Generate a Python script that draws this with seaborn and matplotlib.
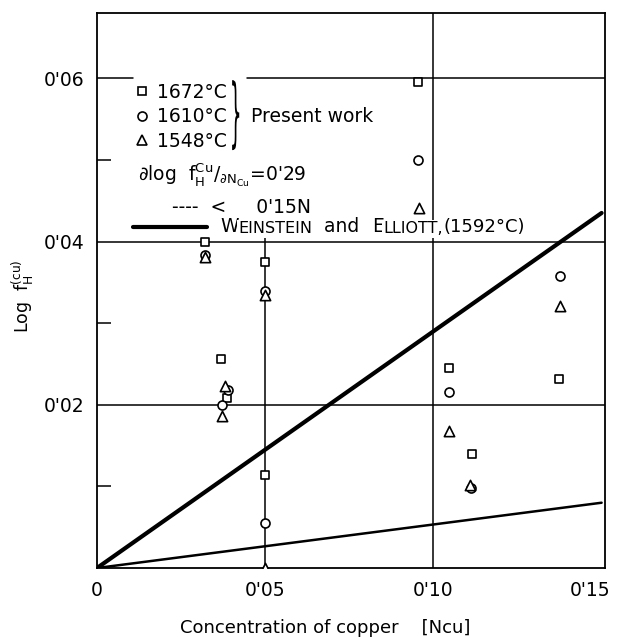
import matplotlib
matplotlib.use("Agg")
import matplotlib.pyplot as plt
import seaborn as sns
from matplotlib.lines import Line2D
from matplotlib.textpath import TextPath
from matplotlib.patches import PathPatch
from matplotlib.font_manager import FontProperties
from matplotlib.transforms import Affine2D, ScaledTranslation

# ---------------- data ----------------
series_labels = ["1672°C", "1610°C", "1548°C"]

x_1672 = [0.0955, 0.0320, 0.0500, 0.0370, 0.0386, 0.0500, 0.1045, 0.1115, 0.1372]
y_1672 = [0.0595, 0.0400, 0.0375, 0.0256, 0.0208, 0.0114, 0.0245, 0.0140, 0.0232]

x_1610 = [0.0955, 0.0320, 0.0500, 0.0390, 0.0373, 0.0500, 0.1045, 0.1112, 0.1375]
y_1610 = [0.0500, 0.0383, 0.0340, 0.0218, 0.0200, 0.0055, 0.0216, 0.0098, 0.0358]

x_1548 = [0.0957, 0.0320, 0.0500, 0.0381, 0.0373, 0.0500, 0.1045, 0.1110, 0.1375]
y_1548 = [0.0441, 0.0381, 0.0334, 0.0223, 0.0186, 0.0000, 0.0168, 0.0102, 0.0321]

line_x = [0.0, 0.15]
present_y = [0.0, 0.0435]      # slope 0.29
weinstein_y = [0.0, 0.0080]

xticks = [0, 0.05, 0.10, 0.15]
xticklabels = ["0", "0'05", "0'10", "0'15"]
yticks = [0.02, 0.04, 0.06]
yticklabels = ["0'02", "0'04", "0'06"]
yminor = [0.01, 0.03, 0.05]

# ---------------- style ----------------
sns.set_theme(style="white")
plt.rcParams["font.family"] = ["DejaVu Sans"]
plt.rcParams["mathtext.fontset"] = "dejavusans"
plt.rcParams["text.color"] = "black"
plt.rcParams["axes.labelcolor"] = "black"
plt.rcParams["legend.labelcolor"] = "black"

fig = plt.figure(figsize=(6.17, 6.37), dpi=100)
ax = fig.add_axes([0.1572, 0.1083, 0.8233, 0.8713])
XMAX, YMAX = 0.151, 0.068
ax.set_xlim(0, XMAX)
ax.set_ylim(0, YMAX)

# grid lines (partly interrupted by the key, as in the reference)
gkw = dict(color="black", lw=1.1, zorder=1)
ax.axhline(0.02, **gkw)
ax.axhline(0.04, **gkw)
ax.axhline(0.06, xmax=0.071, **gkw)
ax.axhline(0.06, xmin=0.295, **gkw)
ax.axvline(0.05, ymax=0.0412 / YMAX, **gkw)
ax.axvline(0.10, **gkw)

# lines
sns.lineplot(x=line_x, y=present_y, color="black", lw=3.0, ax=ax, zorder=3)
sns.lineplot(x=line_x, y=weinstein_y, color="black", lw=1.8, ax=ax, zorder=3)

# points
mk = dict(facecolor="white", edgecolor="black", linewidth=1.2, zorder=5, ax=ax, legend=False)
sns.scatterplot(x=x_1672, y=y_1672, marker="s", s=40, **mk)
sns.scatterplot(x=x_1610, y=y_1610, marker="o", s=42, **mk)
sns.scatterplot(x=x_1548, y=y_1548, marker="^", s=55, **mk)

# axes / ticks
ax.set_xticks(xticks)
ax.set_xticklabels(xticklabels)
ax.set_yticks(yticks)
ax.set_yticklabels(yticklabels)
ax.set_yticks(yminor, minor=True)
ax.tick_params(axis="both", which="major", length=0, pad=9, labelsize=13.5, colors="black")
ax.tick_params(axis="y", which="minor", direction="in", length=10, width=1.1, left=True, color="black")
for sp in ax.spines.values():
    sp.set_color("black")
    sp.set_linewidth(1.3)
# keep the last x label inside the picture
lastlab = ax.get_xticklabels()[-1]
lastlab.set_transform(lastlab.get_transform() + ScaledTranslation(-8 / 72, 0, fig.dpi_scale_trans))

ax.set_xlabel("Concentration of copper    [Ncu]", fontsize=13, color="black")
ax.xaxis.set_label_coords(0.449, -0.092)
ax.set_ylabel(r"Log  f$_\mathrm{H}^\mathrm{(cu)}$", fontsize=12.5, color="black")
ax.yaxis.set_label_coords(-0.12, 0.49)

# ---------------- key ----------------
FS = 13.5
handles = [
    Line2D([], [], ls="none", marker="s", ms=6.3, mfc="white", mec="black", mew=1.2),
    Line2D([], [], ls="none", marker="o", ms=6.5, mfc="white", mec="black", mew=1.2),
    Line2D([], [], ls="none", marker="^", ms=7.2, mfc="white", mec="black", mew=1.2),
]
leg = ax.legend(handles, series_labels, loc="center left", bbox_to_anchor=(0.074, 0.813),
                frameon=False, fontsize=FS, handlelength=0.8, handletextpad=0.4,
                labelspacing=0.3, borderpad=0, borderaxespad=0)
for t in leg.get_texts():
    t.set_color("black")

# stretched brace
tp = TextPath((0, 0), "}", size=1, prop=FontProperties(family="DejaVu Sans"))
ex = tp.get_extents()
bx0, bx1, by0, by1 = 0.266, 0.280, 0.753, 0.879
tr = (Affine2D().translate(-ex.x0, -ex.y0)
      .scale((bx1 - bx0) / ex.width, (by1 - by0) / ex.height)
      .translate(bx0, by0) + ax.transAxes)
ax.add_patch(PathPatch(tp, transform=tr, facecolor="black", edgecolor="none", zorder=6))
ax.text(0.303, 0.813, "Present work", transform=ax.transAxes, fontsize=FS,
        ha="left", va="center", color="black")

ax.text(0.081, 0.708, r"$\partial$log  f$_\mathrm{H}^\mathrm{Cu}$/$_{\partial \mathrm{N}_\mathrm{Cu}}$=0'29",
        transform=ax.transAxes, fontsize=FS, ha="left", va="center", color="black")
ax.text(0.148, 0.650, "----  <     0'15N", transform=ax.transAxes, fontsize=FS,
        ha="left", va="center", color="black")

ax.add_line(Line2D([0.071, 0.217], [0.614, 0.614], transform=ax.transAxes,
                   color="black", lw=3.0, zorder=6))

wb = dict(facecolor="white", edgecolor="none", pad=1.0)
pieces = [("W", FS), ("EINSTEIN", 11.5), ("  and  ", FS), ("E", FS), ("LLIOTT,", 11.5), ("(1592°C)", 13)]
prev = ax.text(0.242, 0.598, pieces[0][0], transform=ax.transAxes, fontsize=pieces[0][1],
               ha="left", va="bottom", color="black", bbox=wb, zorder=7)
for txt, fs in pieces[1:]:
    prev = ax.annotate(txt, xy=(1, 0), xycoords=prev, fontsize=fs, ha="left", va="bottom",
                       color="black", bbox=wb, zorder=7)

fig.savefig("out.png", dpi=100, facecolor="white")
